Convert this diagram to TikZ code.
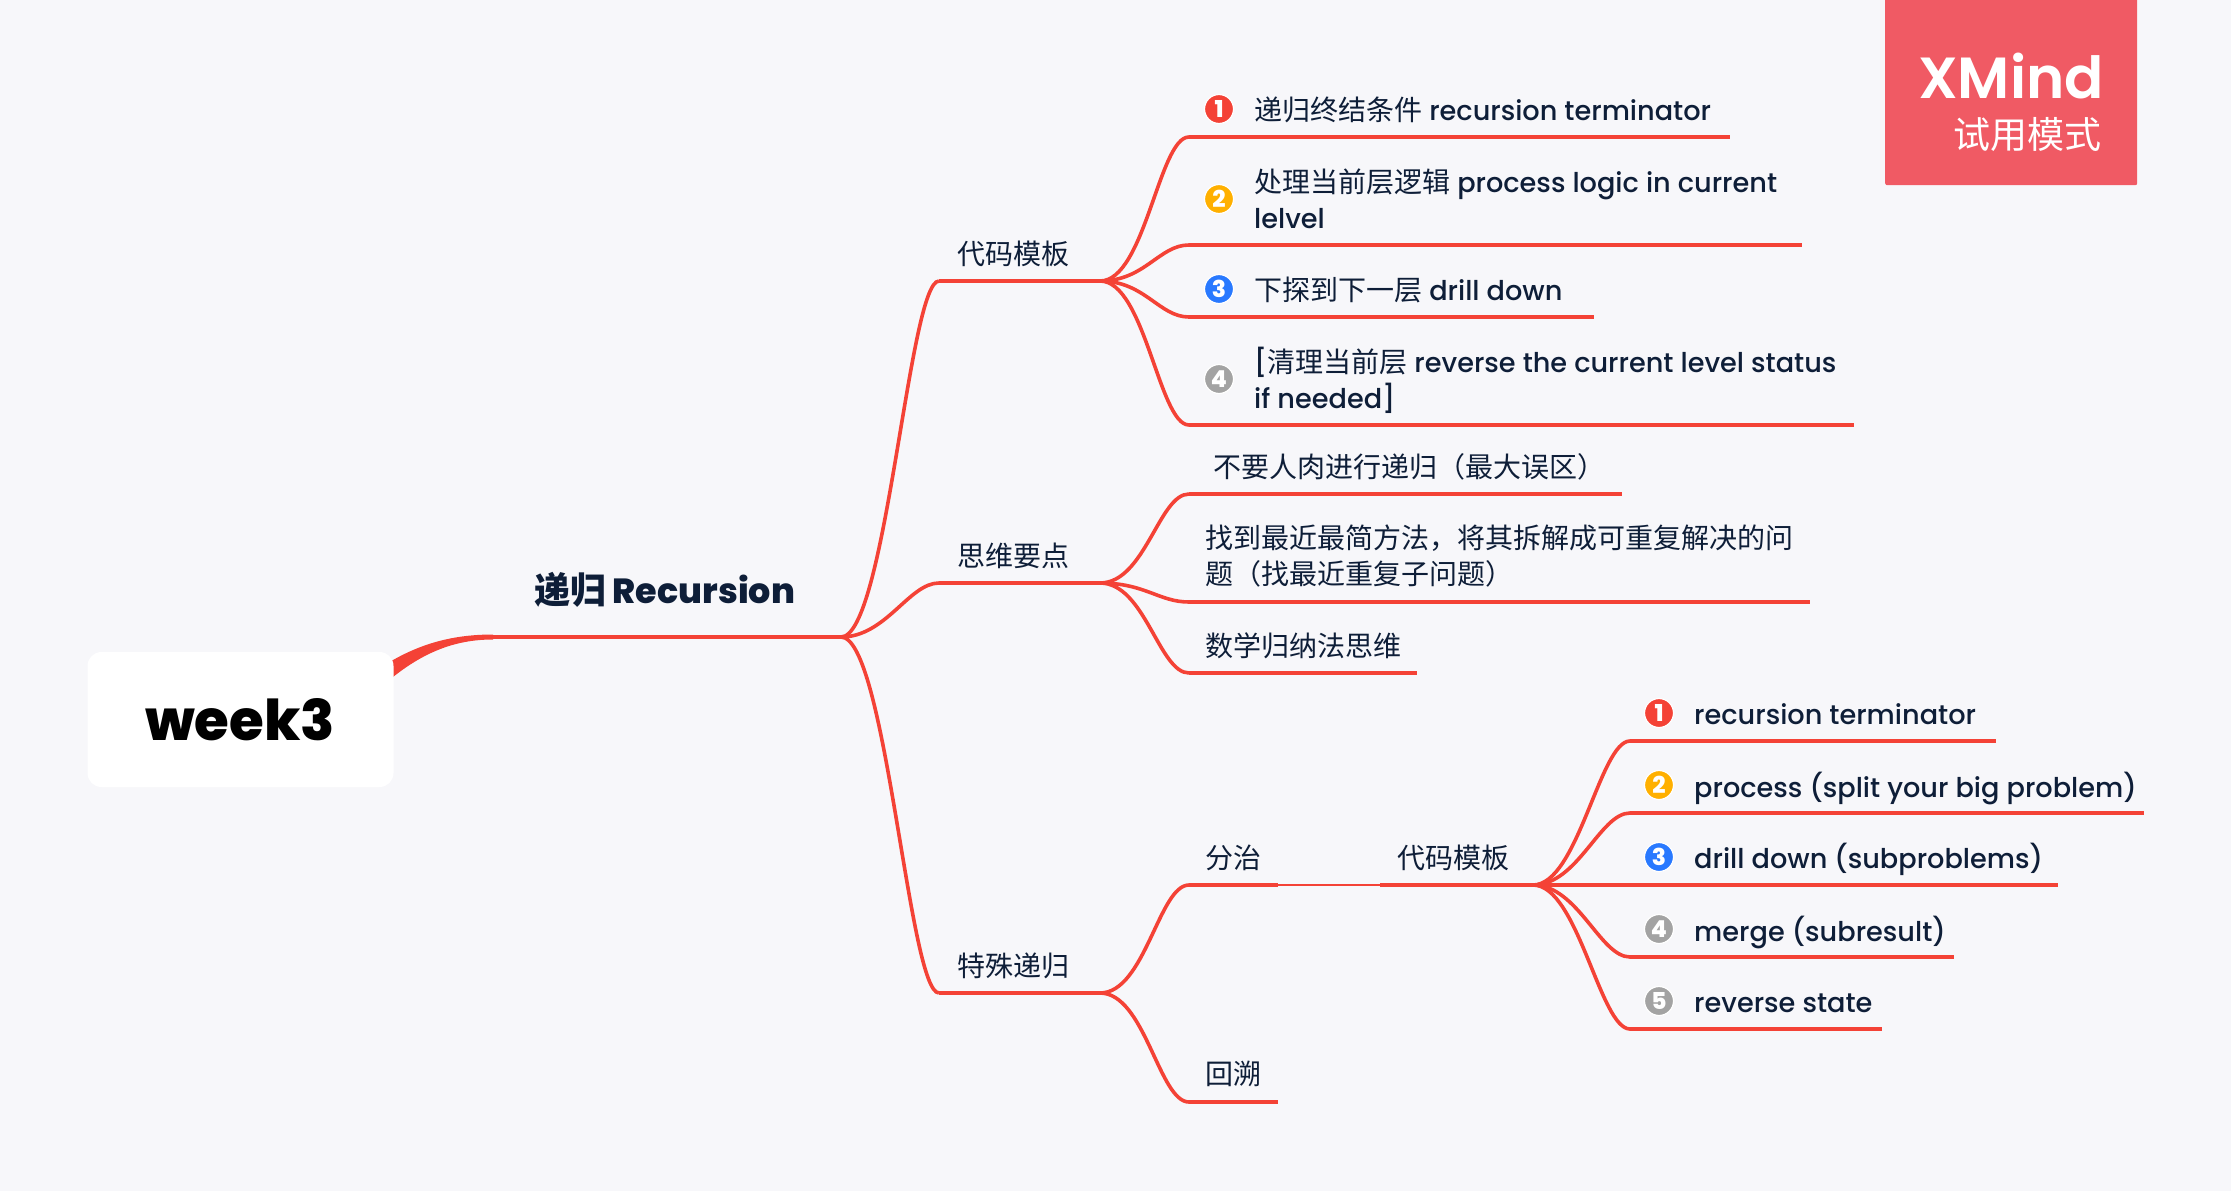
\documentclass[tikz,border=0pt]{standalone}
\usepackage{fontspec}
\setmainfont{Poppins}[Scale=0.97, UprightFont=* Medium, BoldFont=* ExtraBold]
\newfontfamily\cjk{Noto Sans CJK SC}
\newfontfamily\latinsemi{Poppins SemiBold}
\newcommand{\zh}[1]{{\cjk #1}}
\definecolor{pagebg}{HTML}{F7F7FA}
\definecolor{linered}{HTML}{F44236}
\definecolor{inkblue}{HTML}{0E1E38}
\definecolor{badgered}{HTML}{F05A64}
\definecolor{markorange}{HTML}{FFB000}
\definecolor{markblue}{HTML}{2979FF}
\definecolor{markgray}{HTML}{A3A3A3}
\tikzset{
    label/.style={anchor=west, inner sep=0pt, align=left, text=inkblue, font=\fontsize{28}{35.5}\selectfont},
    under/.style={draw=linered, line width=4.4pt},
    curve/.style={draw=linered, line width=3.6pt},
    marker/.style={circle, draw=white, line width=1.2pt, minimum size=29pt, inner sep=0pt, text=white, font=\bfseries\fontsize{24}{24}\selectfont},
}
\begin{document}
\begin{tikzpicture}[x=1pt, y=-1pt]

    \fill[pagebg] (0,0) rectangle (2231,1191);
    \useasboundingbox (0,0) rectangle (2231,1191);

    \coordinate (rootA) at (380,668);
    \coordinate (rootB) at (380,688);
    \coordinate (mainL) at (493,637);
    \coordinate (mainR) at (841,637);

    \fill[linered] (rootA) .. controls (415,645) and (450,634.5) .. (493,634.5) -- (493,639.5) .. controls (455,639.5) and (420,652) .. (rootB) -- cycle;
    \draw[under, line width=4.8pt] (mainL) -- (mainR);

    \node[fill=white, rounded corners=14pt, minimum width=306pt, minimum height=135pt] (root) at (240.5,719.5) {};
    \node[font=\bfseries\fontsize{58}{58}\selectfont, text=black] (week) at (240,719.5) {week3};
    \node[anchor=base west, inner sep=0pt, text=inkblue, font=\bfseries\fontsize{36}{36}\selectfont] (recursion) at (534,603) {{\cjk\bfseries 递归} Recursion};

    % second level
    \coordinate (codeL) at (939,281);
    \coordinate (codeR) at (1100,281);
    \coordinate (thinkL) at (939,583);
    \coordinate (thinkR) at (1100,583);
    \coordinate (specialL) at (939,993);
    \coordinate (specialR) at (1100,993);

    \draw[curve] (mainR) .. controls +(45,0) and +(-30,0) .. (codeL);
    \draw[curve] (mainR) .. controls +(45,0) and +(-30,0) .. (thinkL);
    \draw[curve] (mainR) .. controls +(45,0) and +(-30,0) .. (specialL);
    \draw[under] (codeL) -- (codeR);
    \draw[under] (thinkL) -- (thinkR);
    \draw[under] (specialL) -- (specialR);

    \node[label] (code) at (957,254) {\zh{代码模板}};
    \node[label] (think) at (957,556) {\zh{思维要点}};
    \node[label] (special) at (957,966) {\zh{特殊递归}};

    % code template
    \coordinate (aL) at (1189,137);
    \coordinate (aR) at (1730,137);
    \coordinate (bL) at (1189,245);
    \coordinate (bR) at (1802,245);
    \coordinate (cL) at (1189,317);
    \coordinate (cR) at (1594,317);
    \coordinate (dL) at (1189,425);
    \coordinate (dR) at (1854,425);

    \draw[curve] (codeR) .. controls +(45,0) and +(-30,0) .. (aL);
    \draw[curve] (codeR) .. controls +(45,0) and +(-30,0) .. (bL);
    \draw[curve] (codeR) .. controls +(45,0) and +(-30,0) .. (cL);
    \draw[curve] (codeR) .. controls +(45,0) and +(-30,0) .. (dL);
    \draw[under] (aL) -- (aR);
    \draw[under] (bL) -- (bR);
    \draw[under] (cL) -- (cR);
    \draw[under] (dL) -- (dR);

    \node[marker, fill=linered] (m1) at (1219,109) {1};
    \node[marker, fill=markorange] (m2) at (1219,199) {2};
    \node[marker, fill=markblue] (m3) at (1219,289) {3};
    \node[marker, fill=markgray] (m4) at (1219,379) {4};

    \node[label] (a) at (1254,110) {\zh{递归终结条件} recursion terminator};
    \node[label] (b) at (1254,199) {\zh{处理当前层逻辑} process logic in current\\lelvel};
    \node[label] (c) at (1254,290) {\zh{下探到下一层} drill down};
    \node[label] (d) at (1254,380.5) {[\zh{清理当前层} reverse the current level status\\if needed]};

    % thinking points
    \coordinate (eL) at (1189,494);
    \coordinate (eR) at (1622,494);
    \coordinate (fL) at (1189,602);
    \coordinate (fR) at (1810,602);
    \coordinate (gL) at (1189,673);
    \coordinate (gR) at (1417,673);

    \draw[curve] (thinkR) .. controls +(45,0) and +(-30,0) .. (eL);
    \draw[curve] (thinkR) .. controls +(45,0) and +(-30,0) .. (fL);
    \draw[curve] (thinkR) .. controls +(45,0) and +(-30,0) .. (gL);
    \draw[under] (eL) -- (eR);
    \draw[under] (fL) -- (fR);
    \draw[under] (gL) -- (gR);

    \node[label] (e) at (1213,467) {\zh{不要人肉进行递归（最大误区）}};
    \node[label] (f) at (1205,556) {\zh{找到最近最简方法，将其拆解成可重复解决的问}\\\zh{题（找最近重复子问题）}};
    \node[label] (g) at (1205,646) {\zh{数学归纳法思维}};

    % special recursion
    \coordinate (splitL) at (1189,885);
    \coordinate (splitR) at (1278,885);
    \coordinate (subL) at (1380,885);
    \coordinate (subR) at (1533,885);
    \coordinate (backL) at (1189,1102);
    \coordinate (backR) at (1278,1102);

    \draw[curve] (specialR) .. controls +(45,0) and +(-30,0) .. (splitL);
    \draw[curve] (specialR) .. controls +(45,0) and +(-30,0) .. (backL);
    \draw[under] (splitL) -- (splitR);
    \draw[under] (backL) -- (backR);
    \draw[draw=linered, line width=2pt] (splitR) -- (subL);
    \draw[under] (subL) -- (subR);

    \node[label] (split) at (1205,858) {\zh{分治}};
    \node[label] (back) at (1205,1074) {\zh{回溯}};
    \node[label] (sub) at (1397,858) {\zh{代码模板}};

    % divide and conquer steps
    \coordinate (pL) at (1630,741);
    \coordinate (pR) at (1996,741);
    \coordinate (qL) at (1630,813);
    \coordinate (qR) at (2144,813);
    \coordinate (rL) at (1630,885);
    \coordinate (rR) at (2058,885);
    \coordinate (sL) at (1630,957);
    \coordinate (sR) at (1954,957);
    \coordinate (tL) at (1630,1029);
    \coordinate (tR) at (1882,1029);

    \draw[curve] (subR) .. controls +(45,0) and +(-30,0) .. (pL);
    \draw[curve] (subR) .. controls +(45,0) and +(-30,0) .. (qL);
    \draw[curve] (subR) -- (rL);
    \draw[curve] (subR) .. controls +(45,0) and +(-30,0) .. (sL);
    \draw[curve] (subR) .. controls +(45,0) and +(-30,0) .. (tL);
    \draw[under] (pL) -- (pR);
    \draw[under] (qL) -- (qR);
    \draw[under] (rL) -- (rR);
    \draw[under] (sL) -- (sR);
    \draw[under] (tL) -- (tR);

    \node[marker, fill=linered] (n1) at (1659,713) {1};
    \node[marker, fill=markorange] (n2) at (1659,785) {2};
    \node[marker, fill=markblue] (n3) at (1659,857) {3};
    \node[marker, fill=markgray] (n4) at (1659,929) {4};
    \node[marker, fill=markgray] (n5) at (1659,1001) {5};

    \node[label] (p) at (1694,714) {recursion terminator};
    \node[label] (q) at (1694,788.5) {process (split your big problem)};
    \node[label] (r) at (1694,859) {drill down (subproblems)};
    \node[label] (s) at (1694,932) {merge (subresult)};
    \node[label] (t) at (1694,1003) {reverse state};

    % badge
    \node[fill=badgered, rounded corners=2pt, minimum width=252pt, minimum height=190pt, anchor=north west, inner sep=0pt] (badge) at (1885,-5) {};
    \node[anchor=base east, inner sep=0pt, text=white, font=\latinsemi\fontsize{58}{58}\selectfont] (xmind) at (2104,98) {XMind};
    \node[anchor=east, inner sep=0pt, text=white, font=\cjk\fontsize{37}{37}\selectfont] (trial) at (2102,135) {试用模式};

\end{tikzpicture}
\end{document}
